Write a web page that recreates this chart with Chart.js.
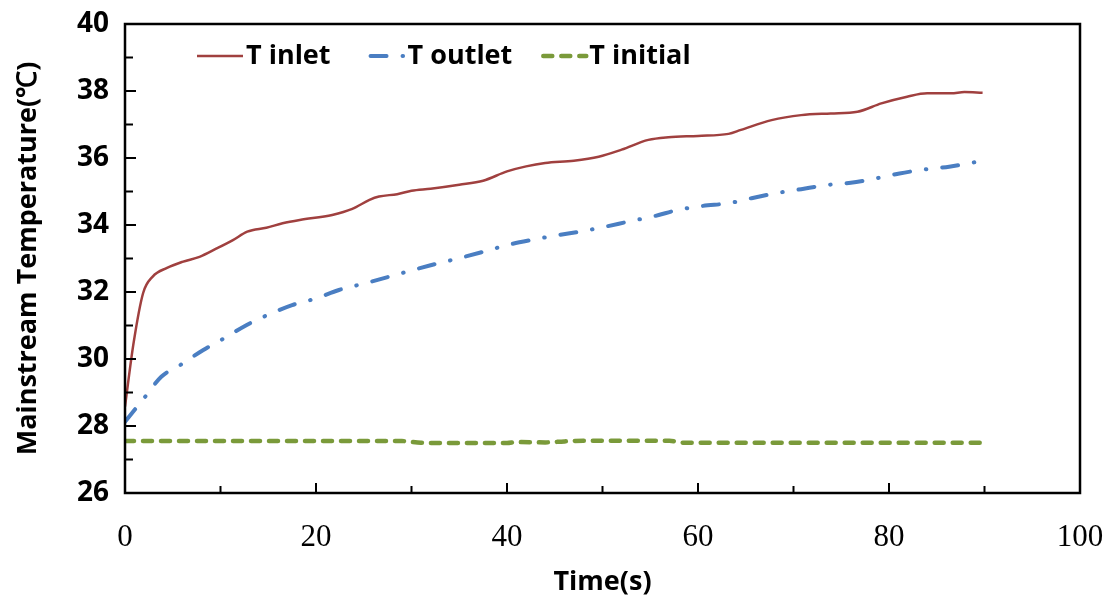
<!DOCTYPE html>
<html>
<head>
<meta charset="utf-8">
<script src="https://cdn.jsdelivr.net/npm/chart.js@4/dist/chart.umd.min.js"></script>
<style>
  html, body { margin: 0; padding: 0; background: #fff; }
  #wrap { width: 1113px; height: 604px; }
</style>
</head>
<body>
<div id="wrap"><canvas id="chart" width="1113" height="604"></canvas></div>
<script>
// tiempos (s) y temperaturas (°C)
const timeInlet = [0, 0.9, 1.9, 2.9, 4.4, 6, 7.8, 9.6, 11.3, 12.8, 14.8, 16.5, 18.3, 21.7, 23.8, 25.6, 26.6, 28.5, 30, 32, 35, 37.5, 40, 42, 44, 47, 49.6, 52, 54.8, 56.9, 60, 63.2, 64.5, 67.7, 70.8, 73.9, 76.7, 79.2, 81.9, 84, 86.5, 87.9, 89.8];
const tempInlet = [28.58, 30.48, 31.97, 32.46, 32.72, 32.9, 33.05, 33.3, 33.55, 33.8, 33.92, 34.05, 34.15, 34.3, 34.48, 34.75, 34.85, 34.92, 35.02, 35.08, 35.2, 35.32, 35.6, 35.75, 35.85, 35.92, 36.04, 36.25, 36.54, 36.62, 36.66, 36.72, 36.84, 37.13, 37.28, 37.33, 37.38, 37.63, 37.83, 37.93, 37.93, 37.97, 37.95];

const timeOutlet = [0, 2.1, 3.8, 5.9, 8.2, 10.4, 12.7, 14.9, 17.5, 20, 22.4, 25, 28.7, 32, 35, 37.5, 40, 42.5, 45.4, 48, 50.3, 52.7, 55.5, 57.9, 60.5, 63.2, 65.6, 68.2, 70.8, 73.4, 76, 78.6, 81.1, 83.8, 86.3, 88.9, 89.8];
const tempOutlet = [28.13, 28.87, 29.47, 29.84, 30.27, 30.62, 31.01, 31.31, 31.61, 31.81, 32.06, 32.25, 32.54, 32.8, 33.01, 33.2, 33.4, 33.55, 33.7, 33.82, 33.95, 34.1, 34.27, 34.45, 34.57, 34.65, 34.8, 34.95, 35.07, 35.19, 35.26, 35.39, 35.54, 35.66, 35.74, 35.87, 35.93];

const timeInitial = [0, 10, 20, 29, 31, 35, 40, 41, 44, 46, 48, 52, 57, 58.5, 65, 75, 85, 90];
const tempInitial = [27.55, 27.55, 27.55, 27.55, 27.5, 27.49, 27.49, 27.52, 27.51, 27.54, 27.56, 27.56, 27.56, 27.5, 27.5, 27.5, 27.5, 27.5];

const seriesLabels = ['T inlet', 'T outlet', 'T initial'];
const xTicks = [0, 20, 40, 60, 80, 100];
const yTicks = [26, 28, 30, 32, 34, 36, 38, 40];

const toPoints = (xs, ys) => xs.map((x, i) => ({ x: x, y: ys[i] }));

// ejes en caja + marcas hacia adentro + leyenda dentro del área
const framePlugin = {
  id: 'frame',
  afterDraw(chart) {
    const { ctx, chartArea: a, scales } = chart;
    ctx.save();
    ctx.strokeStyle = '#000';
    ctx.lineWidth = 2.5;
    ctx.strokeRect(a.left, a.top, a.right - a.left, a.bottom - a.top);

    ctx.lineWidth = 2;
    ctx.beginPath();
    for (let v = 27; v < 40; v++) {
      const y = scales.y.getPixelForValue(v);
      const len = v % 2 === 0 ? 11 : 8;
      ctx.moveTo(a.left, y);
      ctx.lineTo(a.left + len, y);
    }
    for (let v = 10; v < 100; v += 10) {
      const x = scales.x.getPixelForValue(v);
      const len = v % 20 === 0 ? 10 : 7;
      ctx.moveTo(x, a.bottom);
      ctx.lineTo(x, a.bottom - len);
    }
    ctx.stroke();

    // leyenda
    let x = a.left + 72;
    const y = a.top + 32;
    ctx.font = 'bold 27px "Open Sans", "Liberation Sans", sans-serif';
    ctx.textBaseline = 'middle';
    ctx.textAlign = 'left';
    chart.data.datasets.forEach((ds, i) => {
      ctx.save();
      ctx.strokeStyle = ds.borderColor;
      ctx.lineWidth = ds.borderWidth;
      ctx.lineCap = ds.borderCapStyle || 'butt';
      ctx.setLineDash(ds.borderDash || []);
      ctx.lineDashOffset = ds.legendDashOffset || 0;
      ctx.beginPath();
      ctx.moveTo(x, y);
      ctx.lineTo(x + 46, y);
      ctx.stroke();
      ctx.restore();
      ctx.fillStyle = '#000';
      ctx.fillText(ds.label, x + 49, y);
      x += 49 + ctx.measureText(ds.label).width + 28;
    });
    ctx.restore();
  }
};

new Chart(document.getElementById('chart'), {
  type: 'line',
  data: {
    datasets: [{
      label: seriesLabels[0],
      data: toPoints(timeInlet, tempInlet),
      borderColor: '#A0403F',
      borderWidth: 2.5,
      pointRadius: 0,
      cubicInterpolationMode: 'monotone'
    }, {
      label: seriesLabels[1],
      data: toPoints(timeOutlet, tempOutlet),
      borderColor: '#4A7EC2',
      borderWidth: 4,
      borderDash: [16, 16, 0.5, 16],
      borderCapStyle: 'round',
      legendDashOffset: -12,
      pointRadius: 0,
      cubicInterpolationMode: 'monotone'
    }, {
      label: seriesLabels[2],
      data: toPoints(timeInitial, tempInitial),
      borderColor: '#7A9A3A',
      borderWidth: 4.5,
      borderDash: [9, 9],
      borderCapStyle: 'round',
      legendDashOffset: -3,
      pointRadius: 0,
      cubicInterpolationMode: 'monotone'
    }]
  },
  options: {
    responsive: false,
    animation: false,
    layout: { padding: { top: 24, right: 33, left: 0, bottom: 0 } },
    plugins: {
      legend: { display: false },
      tooltip: { enabled: false }
    },
    scales: {
      x: {
        type: 'linear',
        min: 0,
        max: 100,
        afterFit: (s) => { s.height = 111; s.paddingLeft = 0; s.paddingRight = 0; },
        afterBuildTicks: (s) => { s.ticks = xTicks.map(v => ({ value: v })); },
        grid: { display: false, drawTicks: false, tickLength: 0 },
        border: { display: false },
        ticks: {
          color: '#000',
          padding: 26,
          maxRotation: 0,
          font: { family: '"Liberation Serif", serif', size: 31 }
        },
        title: {
          display: true,
          text: 'Time(s)',
          color: '#000',
          font: { family: '"Open Sans", "Liberation Sans", sans-serif', size: 27, weight: 'bold' },
          padding: { top: 0, bottom: 5 }
        }
      },
      y: {
        min: 26,
        max: 40,
        afterFit: (s) => { s.width = 125; s.paddingTop = 0; s.paddingBottom = 0; },
        afterBuildTicks: (s) => { s.ticks = yTicks.map(v => ({ value: v })); },
        grid: { display: false, drawTicks: false, tickLength: 0 },
        border: { display: false },
        ticks: {
          color: '#000',
          padding: 16,
          font: { family: '"Open Sans", "Liberation Sans", sans-serif', size: 28, weight: 'bold' }
        },
        title: {
          display: true,
          text: 'Mainstream Temperature(℃)',
          color: '#000',
          font: { family: '"Open Sans", "Liberation Sans", sans-serif', size: 27, weight: 'bold' },
          padding: { top: 12, bottom: 0 }
        }
      }
    }
  },
  plugins: [framePlugin]
});
</script>
</body>
</html>
